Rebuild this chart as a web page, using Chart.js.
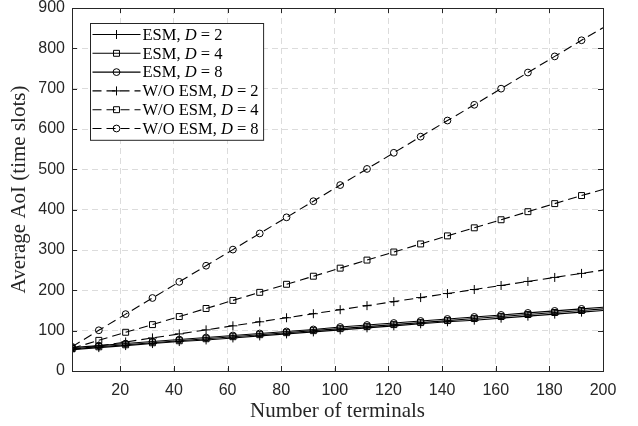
<!DOCTYPE html>
<html>
<head>
<meta charset="utf-8">
<script src="https://cdn.jsdelivr.net/npm/chart.js@4"></script>
<style>
  html, body { margin:0; padding:0; background:#fff; }
  #wrap { width:638px; height:426px; position:relative; }
</style>
</head>
<body>
<div id="wrap"><canvas id="grafico"></canvas></div>
<script>
// ===== Dados =====
const terminais = [2,12,22,32,42,52,62,72,82,92,102,112,122,132,142,152,162,172,182,192,200];
const esmD2 = [53,58,63,68,73,77,82,87,92,97,102,107,112,117,122,126,131,136,141,146,150];
const esmD4 = [55,60,65,70,75,80,85,90,95,100,105,110,115,120,125,130,135,140,145,150,154];
const esmD8 = [58,63,68,73,78,83,88,93,98,103,109,114,119,124,129,134,139,144,149,154,158];
const semD2 = [53,62,72,82,92,102,112,122,132,142,152,162,172,182,192,202,212,222,232,242,250];
const semD4 = [56,76,96,115,135,155,175,195,215,235,255,275,295,315,335,355,375,395,415,435,450];
const semD8 = [60,101,141,181,221,261,301,341,381,421,461,501,541,581,621,660,700,740,780,820,851];
const ticksX = [20,40,60,80,100,120,140,160,180,200];
const ticksY = [0,100,200,300,400,500,600,700,800,900];
const rotulos = ['ESM, D = 2','ESM, D = 4','ESM, D = 8','W/O ESM, D = 2','W/O ESM, D = 4','W/O ESM, D = 8'];

const COR = '#000000';
const EIXO = '#262626';
const SERIF = '"Liberation Serif", "Times New Roman", serif';
const SANS = '"Liberation Sans", Arial, sans-serif';

// marcador só nos pontos de 2 a 192
const raio = r => terminais.map((v,i)=> i===terminais.length-1 ? 0 : r);

function serie(label, data, estilo, tracejado, r){
  return {
    label, data: terminais.map((x,i)=>({x, y:data[i]})),
    borderColor: COR, borderWidth: 1.1,
    borderDash: tracejado ? [9,5] : [],
    pointStyle: estilo, pointRadius: raio(r), pointHoverRadius: 0,
    pointBorderColor: COR, pointBackgroundColor: 'rgba(0,0,0,0)', pointBorderWidth: 1,
    fill: false, tension: 0
  };
}

const datasets = [
  serie(rotulos[0], esmD2, 'cross', false, 4.5),
  serie(rotulos[1], esmD4, 'rect', false, 4.2),
  serie(rotulos[2], esmD8, 'circle', false, 3.4),
  serie(rotulos[3], semD2, 'cross', true, 4.5),
  serie(rotulos[4], semD4, 'rect', true, 4.2),
  serie(rotulos[5], semD8, 'circle', true, 3.4)
];

// ===== Moldura, ticks internos e legenda =====
const moldura = {
  id: 'moldura',
  afterDraw(chart){
    const {ctx, chartArea:a, scales:{x, y}} = chart;
    ctx.save();
    ctx.strokeStyle = EIXO; ctx.lineWidth = 1; ctx.setLineDash([]);
    ctx.beginPath();
    ticksX.forEach(v=>{
      if (v>=200) return;
      const px = Math.round(x.getPixelForValue(v))+0.5;
      ctx.moveTo(px, a.bottom); ctx.lineTo(px, a.bottom-5);
      ctx.moveTo(px, a.top); ctx.lineTo(px, a.top+5);
    });
    ticksY.forEach(v=>{
      if (v<=0 || v>=900) return;
      const py = Math.round(y.getPixelForValue(v))+0.5;
      ctx.moveTo(a.left, py); ctx.lineTo(a.left+5, py);
      ctx.moveTo(a.right, py); ctx.lineTo(a.right-5, py);
    });
    ctx.stroke();
    ctx.strokeRect(Math.round(a.left)+0.5, Math.round(a.top)+0.5, Math.round(a.right-a.left), Math.round(a.bottom-a.top));
    ctx.restore();
  }
};

const legenda = {
  id: 'legenda',
  afterDraw(chart){
    const {ctx, chartArea:a} = chart;
    const L = Math.round(a.left)+18.5, T = Math.round(a.top)+15.5;
    const fonte = '16.5px '+SERIF, fonteIt = 'italic 16.5px '+SERIF;
    const passo = 18.8, amostra = 48;
    ctx.save();
    // mede larguras
    let maxW = 0;
    const partes = chart.data.datasets.map(ds=>{
      const k = ds.label.indexOf('D =');
      const p = [[ds.label.slice(0,k),false],['D',true],[ds.label.slice(k+1),false]];
      let w = 0;
      p.forEach(([t,it])=>{ ctx.font = it?fonteIt:fonte; w += ctx.measureText(t).width; });
      maxW = Math.max(maxW, w);
      return p;
    });
    const W = amostra + 4 + maxW + 5, H = passo*6 + 4;
    ctx.fillStyle = '#fff';
    ctx.fillRect(L, T, W, H);
    ctx.strokeStyle = EIXO; ctx.lineWidth = 1;
    ctx.strokeRect(L, T, W, H);
    chart.data.datasets.forEach((ds,i)=>{
      const yy = T + 11 + i*passo;
      ctx.strokeStyle = COR; ctx.lineWidth = ds.borderWidth;
      ctx.setLineDash(ds.borderDash);
      ctx.beginPath(); ctx.moveTo(L+2, yy); ctx.lineTo(L+2+amostra, yy); ctx.stroke();
      ctx.setLineDash([]);
      ctx.fillStyle = 'rgba(0,0,0,0)'; ctx.lineWidth = 1;
      Chart.helpers.drawPoint(ctx, {pointStyle: ds.pointStyle, radius: ds.pointRadius[0], rotation:0, borderWidth:1}, L+2+amostra/2, yy);
      let xx = L + amostra + 4;
      ctx.fillStyle = '#000'; ctx.textBaseline = 'middle'; ctx.textAlign = 'left';
      partes[i].forEach(([t,it])=>{
        ctx.font = it?fonteIt:fonte;
        ctx.fillText(t, xx, yy+1);
        xx += ctx.measureText(t).width;
      });
    });
    ctx.restore();
  }
};

new Chart(document.getElementById('grafico').getContext('2d'), {
  type: 'line',
  data: { datasets },
  options: {
    responsive: true, maintainAspectRatio: false, animation: false,
    layout: { padding: { top: 8, right: 35, left: 0, bottom: 0 } },
    plugins: { legend: { display:false }, tooltip: { enabled:false } },
    scales: {
      x: {
        type: 'linear', min: 2, max: 200,
        afterBuildTicks: s => { s.ticks = ticksX.map(v=>({value:v})); },
        afterFit: s => { s.height = 55; },
        grid: { color: '#dcdcdc', lineWidth: 1, drawTicks: false },
        border: { display: false, dash: [6,4] },
        ticks: { padding: 10, color: EIXO, font: { family: SANS, size: 16 }, maxRotation: 0 },
        title: { display: true, text: 'Number of terminals', color: EIXO,
                 font: { family: SERIF, size: 21 }, padding: { top: 0, bottom: 2 } }
      },
      y: {
        min: 0, max: 900,
        afterBuildTicks: s => { s.ticks = ticksY.map(v=>({value:v})); },
        afterFit: s => { s.width = 72; s.paddingTop = 0; s.paddingBottom = 0; },
        grid: { color: '#dcdcdc', lineWidth: 1, drawTicks: false },
        border: { display: false, dash: [6,4] },
        ticks: { padding: 7, color: EIXO, font: { family: SANS, size: 16 } },
        title: { display: true, text: 'Average AoI (time slots)', color: EIXO,
                 font: { family: SERIF, size: 21 }, padding: { top: 7, bottom: 0 } }
      }
    }
  },
  plugins: [moldura, legenda]
});
</script>
</body>
</html>
